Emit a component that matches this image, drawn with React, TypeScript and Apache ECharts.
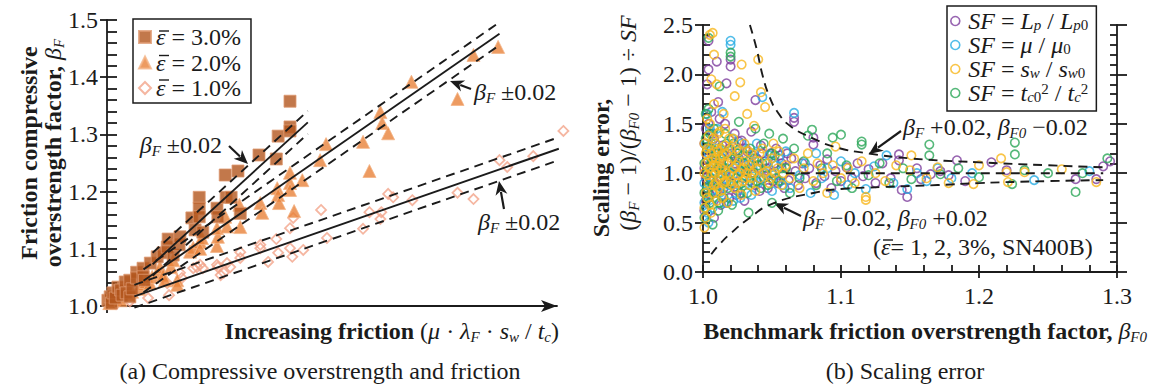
import React, { useEffect, useRef } from 'react';
import * as echarts from 'echarts';

const FONT = "'Liberation Serif', 'Times New Roman', serif";
const INK = '#1b1b1b';
const FS = 24;

// ---------- (a) compressive overstrength vs. increasing friction ----------
// x: relative position along the friction arrow, y: beta_F
const strain3: number[][] = [
  [0.2, 1.01], [0.7, 1.016], [1.0, 1.005], [1.3, 1.023], [1.8, 1.014], [2.4, 1.033], [3.0, 1.028],
  [3.3, 1.019], [4.0, 1.042], [4.2, 1.023], [5.0, 1.045], [5.0, 1.016], [5.5, 1.03], [6.5, 1.059],
  [6.5, 1.049], [7.9, 1.066], [7.9, 1.051], [8.2, 1.045], [9.5, 1.075], [11, 1.086], [12.3, 1.093],
  [13.2, 1.103], [13.4, 1.117], [14.5, 1.089], [15.8, 1.107], [16, 1.121], [18.6, 1.154], [19.3, 1.133],
  [20.2, 1.19], [20.2, 1.171], [20.2, 1.156], [21, 1.129], [24.1, 1.171], [24.3, 1.156], [26.1, 1.19],
  [27.2, 1.19], [25.9, 1.229], [28.7, 1.236], [29.2, 1.162], [33.3, 1.264], [37.1, 1.257], [37.5, 1.297],
  [40.1, 1.313], [40.1, 1.306], [40.1, 1.358],
];
const strain2: number[][] = [
  [0.5, 1.005], [1.5, 1.012], [2.5, 1.018], [3, 1.01], [4.8, 1.02], [5.5, 1.025], [7, 1.03], [7.5, 1.038],
  [8.5, 1.042], [9.4, 1.04], [9.9, 1.051], [11.2, 1.058], [11.6, 1.068], [12.3, 1.054], [12.7, 1.045],
  [14, 1.068], [14.5, 1.08], [15.4, 1.045], [15.4, 1.037], [18.2, 1.095], [18.9, 1.102], [20.4, 1.112],
  [20.4, 1.1], [20.8, 1.119], [24.1, 1.105], [24.3, 1.121], [24.1, 1.136], [25.9, 1.156], [26.3, 1.139],
  [29.2, 1.138], [29, 1.177], [33.6, 1.18], [34, 1.163], [37.3, 1.206], [37.5, 1.194], [37.7, 1.18],
  [40.1, 1.233], [40.1, 1.215], [40.1, 1.203], [41, 1.166], [42.8, 1.22], [46.7, 1.255], [48, 1.283],
  [56.1, 1.287], [57.5, 1.236], [59.9, 1.339], [60.3, 1.32], [61.6, 1.302], [66.7, 1.392], [76.8, 1.362],
  [80.3, 1.439], [85.7, 1.453],
];
const strain1: number[][] = [
  [2, 1.003], [5, 1.008], [9, 1.014], [13.6, 1.019], [13.2, 1.04], [16, 1.058], [16.4, 1.049], [18.9, 1.066],
  [19.7, 1.068], [20.4, 1.072], [21, 1.066], [24.1, 1.072], [24.3, 1.068], [25.6, 1.058], [24.9, 1.054],
  [26.3, 1.075], [27, 1.068], [29.2, 1.094], [29.2, 1.084], [33.6, 1.107], [33.6, 1.101], [35.3, 1.077],
  [37.1, 1.117], [37.5, 1.093], [40.1, 1.101], [40.6, 1.086], [40.1, 1.136], [40.8, 1.154], [43, 1.098],
  [46.9, 1.168], [48.2, 1.119], [56.1, 1.135], [57.5, 1.164], [59.9, 1.152], [60.1, 1.164], [61.6, 1.196],
  [62.7, 1.19], [66.9, 1.185], [76.8, 1.198], [80.3, 1.187], [86, 1.255], [87.7, 1.243], [93.4, 1.262],
  [100, 1.306],
];

// trend lines and their +/-0.02 bands (end points)
const fit3 = [[10, 1.073], [44, 1.321]];
const fit3Hi = [[10, 1.093], [44, 1.341]];
const fit3Lo = [[10, 1.053], [44, 1.301]];
const fit2 = [[8, 1.044], [86, 1.476]];
const fit2Hi = [[8, 1.064], [86, 1.496]];
const fit2Lo = [[8, 1.024], [86, 1.456]];
const fit1 = [[6, 1.017], [99, 1.275]];
const fit1Hi = [[6, 1.037], [99, 1.295]];
const fit1Lo = [[6, 0.997], [99, 1.255]];

// ---------- (b) scaling error vs. benchmark beta_F0 ----------
const sfLength: number[][] = [
  [1.001, 0.62], [1.001, 1.05], [1.001, 1.3], [1.002, 0.95], [1.002, 1.45], [1.002, 0.72], [1.003, 1.9],
  [1.003, 1.15], [1.003, 0.85], [1.004, 2.34], [1.004, 2.05], [1.004, 1.5], [1.005, 1.25], [1.005, 0.78],
  [1.006, 1.62], [1.006, 0.92], [1.007, 1.1], [1.007, 1.4], [1.008, 0.55], [1.008, 1.35], [1.008, 1.0],
  [1.009, 0.9], [1.009, 1.2], [1.01, 2.13], [1.01, 0.82], [1.011, 1.72], [1.011, 1.05], [1.012, 1.05],
  [1.012, 1.55], [1.013, 0.68], [1.013, 0.95], [1.014, 1.28], [1.014, 1.15], [1.015, 0.85], [1.016, 1.5],
  [1.016, 1.02], [1.017, 1.91], [1.017, 0.7], [1.018, 1.12], [1.019, 0.75], [1.019, 1.25], [1.02, 2.15],
  [1.02, 2.08], [1.021, 1.2], [1.021, 0.9], [1.022, 0.98], [1.023, 1.4], [1.023, 1.1], [1.024, 0.78],
  [1.025, 0.82], [1.026, 1.15], [1.026, 1.32], [1.027, 1.02], [1.028, 1.33], [1.029, 0.95], [1.03, 0.72],
  [1.031, 1.08], [1.031, 1.25], [1.032, 1.22], [1.033, 1.05], [1.034, 0.92], [1.035, 1.42], [1.036, 1.18],
  [1.037, 1.0], [1.038, 1.74], [1.038, 0.88], [1.039, 1.15], [1.04, 1.05], [1.041, 0.82], [1.042, 1.28],
  [1.043, 1.2], [1.044, 0.95], [1.045, 1.12], [1.046, 1.05], [1.047, 0.85], [1.049, 1.2], [1.05, 1.0],
  [1.051, 0.92], [1.052, 1.1], [1.053, 1.25], [1.054, 0.9], [1.056, 1.18], [1.057, 1.1], [1.058, 0.98],
  [1.059, 0.85], [1.06, 1.06], [1.061, 1.2], [1.062, 0.93], [1.064, 1.15], [1.066, 1.56], [1.066, 1.52],
  [1.067, 1.02], [1.069, 0.88], [1.072, 1.1], [1.074, 0.95], [1.077, 1.05], [1.08, 1.36], [1.08, 1.29],
  [1.082, 0.9], [1.085, 1.08], [1.088, 0.97], [1.09, 1.14], [1.093, 0.85], [1.096, 1.02], [1.1, 0.92],
  [1.104, 1.06], [1.108, 0.95], [1.112, 1.1], [1.116, 0.97], [1.12, 1.04], [1.125, 0.9], [1.13, 1.1],
  [1.136, 0.95], [1.142, 1.19], [1.142, 1.13], [1.144, 0.83], [1.148, 0.76], [1.155, 1.05], [1.158, 0.94],
  [1.165, 0.99], [1.172, 1.02], [1.178, 0.98], [1.184, 1.13], [1.19, 0.92], [1.209, 1.11], [1.22, 1.03],
  [1.27, 0.94], [1.285, 0.94], [1.29, 1.07], [1.295, 1.12],
];
const sfMu: number[][] = [
  [1.001, 0.7], [1.001, 0.9], [1.002, 1.1], [1.002, 1.3], [1.003, 1.6], [1.003, 0.6], [1.004, 0.5],
  [1.004, 1.2], [1.005, 0.88], [1.005, 1.45], [1.006, 1.3], [1.006, 0.95], [1.007, 0.65], [1.008, 1.15],
  [1.008, 0.75], [1.009, 1.02], [1.01, 1.45], [1.011, 1.25], [1.012, 0.8], [1.013, 1.1], [1.014, 1.62],
  [1.015, 0.7], [1.016, 0.95], [1.017, 1.05], [1.018, 1.2], [1.019, 0.88], [1.02, 2.34], [1.02, 2.3],
  [1.021, 1.35], [1.022, 0.72], [1.023, 1.0], [1.024, 1.05], [1.025, 1.2], [1.026, 0.88], [1.027, 0.75],
  [1.028, 1.3], [1.029, 1.1], [1.03, 0.98], [1.032, 0.9], [1.033, 1.12], [1.035, 0.78], [1.036, 1.05],
  [1.037, 1.2], [1.039, 1.3], [1.04, 0.9], [1.042, 0.95], [1.043, 1.77], [1.045, 1.0], [1.046, 1.1],
  [1.048, 1.18], [1.05, 0.82], [1.051, 0.98], [1.053, 1.08], [1.055, 1.15], [1.056, 0.92], [1.058, 0.88],
  [1.06, 1.22], [1.063, 0.85], [1.066, 1.61], [1.07, 0.98], [1.074, 1.1], [1.078, 0.8], [1.082, 1.2],
  [1.086, 0.95], [1.09, 1.05], [1.095, 0.78], [1.1, 1.12], [1.105, 0.88], [1.11, 1.0], [1.118, 0.84],
  [1.124, 1.07], [1.133, 1.18], [1.138, 0.9], [1.148, 0.84], [1.155, 1.0], [1.162, 0.92], [1.17, 1.05],
  [1.18, 0.95], [1.195, 1.0], [1.24, 0.93], [1.28, 1.02],
];
const sfSpacing: number[][] = [
  [1.001, 0.45], [1.001, 0.65], [1.001, 1.0], [1.001, 1.3], [1.002, 0.8], [1.002, 1.2], [1.002, 0.55],
  [1.002, 1.1], [1.003, 1.55], [1.003, 0.98], [1.003, 0.75], [1.003, 1.25], [1.004, 1.38], [1.004, 0.9],
  [1.004, 1.12], [1.005, 2.4], [1.005, 1.05], [1.005, 0.68], [1.005, 1.5], [1.006, 0.6], [1.006, 1.95],
  [1.006, 1.0], [1.006, 1.2], [1.007, 2.42], [1.007, 1.15], [1.007, 0.8], [1.007, 1.35], [1.008, 0.88],
  [1.008, 2.2], [1.008, 1.08], [1.008, 1.7], [1.009, 1.3], [1.009, 1.0], [1.009, 0.9], [1.009, 1.15],
  [1.01, 0.72], [1.01, 1.9], [1.01, 1.05], [1.01, 1.25], [1.011, 1.1], [1.011, 1.22], [1.011, 0.85],
  [1.011, 1.4], [1.012, 0.95], [1.012, 1.42], [1.012, 1.15], [1.013, 1.05], [1.013, 0.82], [1.013, 1.25],
  [1.014, 1.18], [1.014, 0.98], [1.014, 0.75], [1.015, 1.6], [1.015, 0.9], [1.015, 1.1], [1.016, 1.28],
  [1.016, 0.92], [1.016, 1.45], [1.017, 1.0], [1.017, 1.2], [1.018, 1.1], [1.018, 0.7], [1.019, 1.35],
  [1.019, 0.98], [1.02, 0.92], [1.02, 1.25], [1.021, 1.15], [1.021, 0.88], [1.022, 1.05], [1.022, 1.35],
  [1.023, 1.78], [1.023, 0.85], [1.024, 1.25], [1.024, 1.08], [1.025, 0.98], [1.025, 0.9], [1.026, 1.12],
  [1.026, 1.22], [1.027, 1.92], [1.027, 1.0], [1.028, 2.1], [1.028, 0.78], [1.029, 1.05], [1.029, 0.92],
  [1.03, 1.3], [1.03, 1.12], [1.031, 0.95], [1.032, 1.6], [1.032, 1.0], [1.033, 1.08], [1.033, 1.22],
  [1.034, 0.88], [1.035, 1.2], [1.035, 0.95], [1.036, 1.0], [1.036, 1.1], [1.037, 1.48], [1.038, 0.82],
  [1.039, 1.05], [1.04, 2.15], [1.04, 1.12], [1.041, 0.95], [1.041, 1.2], [1.042, 1.82], [1.043, 1.25],
  [1.044, 1.0], [1.045, 1.67], [1.046, 1.02], [1.047, 1.1], [1.048, 0.9], [1.049, 0.95], [1.05, 1.15],
  [1.051, 1.3], [1.052, 1.0], [1.054, 1.05], [1.055, 1.22], [1.057, 0.88], [1.058, 1.0], [1.06, 1.08],
  [1.063, 0.95], [1.066, 1.15], [1.07, 0.85], [1.073, 1.05], [1.076, 1.2], [1.08, 0.92], [1.083, 1.1],
  [1.087, 1.0], [1.09, 0.8], [1.094, 1.08], [1.096, 1.27], [1.1, 0.95], [1.105, 1.05], [1.11, 0.9],
  [1.115, 1.12], [1.118, 0.73], [1.118, 0.76], [1.125, 1.0], [1.132, 0.92], [1.14, 1.08], [1.151, 1.18],
  [1.15, 1.03], [1.162, 0.95], [1.17, 1.06], [1.178, 0.9], [1.196, 0.89], [1.2, 1.08], [1.216, 1.15],
  [1.221, 0.91], [1.22, 1.01], [1.233, 1.01], [1.26, 1.04], [1.285, 0.91],
];
const sfThickness: number[][] = [
  [1.001, 0.55], [1.001, 0.8], [1.001, 1.1], [1.002, 1.35], [1.002, 0.65], [1.002, 1.6], [1.003, 0.85],
  [1.003, 1.0], [1.003, 1.25], [1.004, 2.37], [1.004, 1.65], [1.004, 0.75], [1.005, 0.7], [1.005, 1.4],
  [1.005, 0.95], [1.006, 1.1], [1.006, 1.25], [1.007, 0.48], [1.007, 0.88], [1.008, 1.45], [1.008, 1.12],
  [1.009, 0.8], [1.009, 1.3], [1.01, 1.2], [1.01, 0.92], [1.011, 0.62], [1.011, 1.05], [1.012, 1.88],
  [1.012, 0.7], [1.013, 1.0], [1.014, 1.2], [1.015, 0.75], [1.015, 1.05], [1.016, 1.4], [1.017, 0.9],
  [1.017, 1.3], [1.018, 0.85], [1.019, 1.12], [1.02, 2.22], [1.02, 2.18], [1.02, 1.0], [1.021, 0.68],
  [1.022, 1.3], [1.023, 1.15], [1.024, 0.95], [1.025, 1.2], [1.026, 1.52], [1.027, 0.8], [1.028, 0.9],
  [1.029, 1.18], [1.03, 1.1], [1.031, 1.02], [1.032, 0.8], [1.033, 0.6], [1.034, 1.25], [1.035, 1.0],
  [1.036, 0.9], [1.037, 1.15], [1.038, 1.45], [1.039, 0.92], [1.04, 1.08], [1.042, 0.85], [1.043, 1.1],
  [1.044, 1.3], [1.046, 0.98], [1.047, 0.88], [1.048, 1.4], [1.05, 0.7], [1.05, 1.2], [1.052, 1.18],
  [1.053, 0.95], [1.055, 0.92], [1.057, 1.05], [1.058, 1.35], [1.06, 1.05], [1.063, 0.8], [1.066, 1.25],
  [1.07, 0.95], [1.073, 1.12], [1.076, 1.38], [1.079, 1.44], [1.082, 0.88], [1.086, 1.05], [1.09, 1.2],
  [1.094, 1.36], [1.097, 0.92], [1.1, 1.39], [1.104, 1.08], [1.108, 0.85], [1.115, 1.32], [1.115, 1.29],
  [1.12, 0.98], [1.128, 1.1], [1.135, 0.9], [1.145, 1.05], [1.151, 0.94], [1.164, 1.29], [1.164, 1.18],
  [1.172, 0.99], [1.185, 1.05], [1.2, 0.96], [1.224, 0.89], [1.226, 1.31], [1.226, 1.19], [1.233, 1.03],
  [1.25, 1.0], [1.27, 0.81], [1.275, 1.0], [1.293, 1.15],
];

// error bounds for beta_F +/- 0.02 and beta_F0 -/+ 0.02
const boundUpper = [
  [1.034, 2.5], [1.039, 2.25], [1.043, 2.0], [1.048, 1.78], [1.054, 1.62], [1.063, 1.48], [1.08, 1.35],
  [1.097, 1.26], [1.12, 1.2], [1.15, 1.15], [1.2, 1.11], [1.25, 1.08], [1.29, 1.06],
];
const boundLower = [
  [1.006, 0.18], [1.012, 0.28], [1.02, 0.39], [1.034, 0.55], [1.05, 0.69], [1.08, 0.8], [1.1, 0.84],
  [1.13, 0.86], [1.17, 0.88], [1.2, 0.9], [1.25, 0.92], [1.29, 0.93],
];
const unity = [[1.06, 1.0], [1.29, 1.0]];

// axis ranges
const leftY = { min: 1.0, max: 1.5, step: 0.1 };
const leftX = { min: 0, max: 98.6 };
const rightX = { min: 1.0, max: 1.3, step: 0.1 };
const rightY = { min: 0.0, max: 2.5, step: 0.5 };

const COLORS = {
  strain3: '#B3561E', strain3Edge: '#DE9A72',
  strain2: '#E8823A', strain2Edge: '#F4B487',
  strain1: '#F2A48A',
  purple: '#7E3F9E', cyan: '#27ACE3', gold: '#F8B61C', green: '#2AA658',
};

const richSet = (size: number, lh = size + 2) => {
  const sub = Math.round(size * 0.62);
  return {
    i: { fontFamily: FONT, fontStyle: 'italic', fontSize: size, lineHeight: lh },
    b: { fontFamily: FONT, fontWeight: 'bold', fontSize: size, lineHeight: lh },
    s: { fontFamily: FONT, fontStyle: 'italic', fontSize: sub, lineHeight: sub, verticalAlign: 'bottom' },
    s0: { fontFamily: FONT, fontSize: sub, lineHeight: sub, verticalAlign: 'bottom' },
    sup: { fontFamily: FONT, fontSize: sub, lineHeight: sub, verticalAlign: 'top' },
  };
};

const legendA: Record<string, string> = {
  strain3: '{i|ε} = 3.0%',
  strain2: '{i|ε} = 2.0%',
  strain1: '{i|ε} = 1.0%',
};
const legendB: Record<string, string> = {
  sfLength: '{i|SF} = {i|L}{s|p} / {i|L}{s|p}{s0|0}',
  sfMu: '{i|SF} = {i|μ} / {i|μ}{s0|0}',
  sfSpacing: '{i|SF} = {i|s}{s|w} / {i|s}{s|w}{s0|0}',
  sfThickness: '{i|SF} = {i|t}{s|c}{s0|0}{sup|2} / {i|t}{s|c}{sup|2}',
};

function arrow(x1: number, y1: number, x2: number, y2: number) {
  const a = Math.atan2(y2 - y1, x2 - x1);
  const L = 14, W = 6;
  const c = Math.cos(a), s = Math.sin(a);
  const bx = x2 - L * c, by = y2 - L * s;
  return [
    { type: 'line', shape: { x1, y1, x2: bx + 3 * c, y2: by + 3 * s }, style: { stroke: INK, lineWidth: 2.2 } },
    {
      type: 'polygon',
      shape: { points: [[x2, y2], [bx - W * s, by + W * c], [bx + 4 * c, by + 4 * s], [bx + W * s, by - W * c]] },
      style: { fill: INK },
    },
  ];
}

// short overbar above an epsilon
function bar(x: number, y: number, w = 10) {
  return {
    type: 'line', z: 100, zlevel: 0,
    shape: { x1: x, y1: y, x2: x + w, y2: y }, style: { stroke: INK, lineWidth: 1.4 },
  };
}

function txt(x: number, y: number, text: string, align: string, extra: any = {}) {
  return {
    type: 'text', x, y, ...extra,
    style: { text, fontFamily: FONT, fontSize: FS, fill: INK, align, verticalAlign: 'middle', rich: richSet(FS) },
  };
}

const axisLineStyle = { color: INK, width: 1.8 };
const tickStyle = { color: INK, width: 1.8 };
const labelStyle = { fontFamily: FONT, fontSize: FS, color: INK };

export default function App() {
  const ref = useRef<HTMLDivElement>(null);

  useEffect(() => {
    if (!ref.current) return;
    const chart = echarts.init(ref.current, undefined, { renderer: 'svg' });

    const dashed = (data: number[][], xi: number, yi: number, smooth = false) => ({
      type: 'line', data, xAxisIndex: xi, yAxisIndex: yi, showSymbol: false, symbol: 'none', smooth,
      clip: false, silent: true, z: 5,
      lineStyle: { color: INK, width: 1.9, type: [9, 6] },
    });
    const solid = (data: number[][]) => ({
      type: 'line', data, xAxisIndex: 0, yAxisIndex: 0, showSymbol: false, symbol: 'none',
      clip: false, silent: true, z: 5, lineStyle: { color: INK, width: 1.9 },
    });
    const ring = (name: string, data: number[][], color: string) => ({
      type: 'scatter', name, data, xAxisIndex: 1, yAxisIndex: 2, symbol: 'circle', symbolSize: 8.5, clip: false,
      itemStyle: { color: 'rgba(255,255,255,0)', borderColor: color, borderWidth: 1.6 },
    });

    const graphics: any[] = [
      // (a) axis titles and caption
      txt(29, 153, '{b|Friction compressive}', 'center', { rotation: Math.PI / 2 }),
      txt(53, 153, '{b|overstrength factor,} {i|β}{s|F}', 'center', { rotation: Math.PI / 2 }),
      txt(559, 331, '{b|Increasing friction} ({i|μ} · {i|λ}{s|F} · {i|s}{s|w} / {i|t}{s|c})', 'right'),
      txt(320, 371, '(a) Compressive overstrength and friction', 'center'),
      // (a) band labels
      txt(222, 145, '{i|β}{s|F} ±0.02', 'right'),
      txt(474, 92, '{i|β}{s|F} ±0.02', 'left'),
      txt(478, 222, '{i|β}{s|F} ±0.02', 'left'),
      ...arrow(229, 146, 248, 164),
      ...arrow(471, 89, 450, 81),
      ...arrow(504, 209, 499, 181),
      // (b) axis titles and caption
      txt(601, 168, '{b|Scaling error,}', 'center', { rotation: Math.PI / 2 }),
      txt(628, 123, '({i|β}{s|F} − 1)/({i|β}{s|F0} − 1) ÷ {i|SF}', 'center', { rotation: Math.PI / 2 }),
      txt(1147, 331, '{b|Benchmark friction overstrength factor,} {i|β}{s|F0}', 'right'),
      txt(905, 371, '(b) Scaling error', 'center'),
      // (b) bound labels
      txt(903, 127, '{i|β}{s|F} +0.02, {i|β}{s|F0} −0.02', 'left'),
      txt(803, 218, '{i|β}{s|F} −0.02, {i|β}{s|F0} +0.02', 'left'),
      txt(873, 247, '({i|ε}= 1, 2, 3%, SN400B)', 'left'),
      bar(883, 240),
      ...arrow(901, 131, 869, 154),
      ...arrow(801, 216, 774, 203),
      // legend overbars
      bar(159, 31), bar(159, 55.5), bar(159, 80),
    ];

    chart.setOption({
      animation: false,
      backgroundColor: '#ffffff',
      textStyle: { fontFamily: FONT },
      grid: [
        { left: 107, top: 20, width: 450, height: 286 },
        { left: 703, top: 25, width: 414, height: 247 },
      ],
      xAxis: [
        {
          gridIndex: 0, type: 'value', min: leftX.min, max: leftX.max, position: 'bottom',
          axisLine: { show: true, symbol: ['none', 'arrow'], symbolSize: [9, 16], lineStyle: axisLineStyle },
          axisTick: { show: true, customValues: [0], length: 7, lineStyle: tickStyle },
          axisLabel: { show: false }, splitLine: { show: false },
        },
        {
          gridIndex: 1, type: 'value', min: rightX.min, max: rightX.max, interval: rightX.step, position: 'bottom',
          axisLine: { show: true, lineStyle: axisLineStyle },
          axisTick: { show: true, length: 6, lineStyle: tickStyle },
          axisLabel: { ...labelStyle, margin: 12, formatter: (v: number) => v.toFixed(1) },
          splitLine: { show: false },
        },
        {
          gridIndex: 1, type: 'value', min: rightX.min, max: rightX.max, interval: rightX.step, position: 'bottom',
          axisLine: { show: false },
          axisTick: { show: true, inside: true, length: 7, lineStyle: tickStyle },
          minorTick: { show: true, splitNumber: 5, length: 7, lineStyle: tickStyle },
          axisLabel: { show: false }, splitLine: { show: false },
        },
      ],
      yAxis: [
        {
          gridIndex: 0, type: 'value', min: leftY.min, max: leftY.max, interval: leftY.step, position: 'left',
          axisLine: { show: true, lineStyle: axisLineStyle },
          axisTick: { show: true, length: 7, lineStyle: tickStyle },
          axisLabel: { ...labelStyle, margin: 9, formatter: (v: number) => v.toFixed(1) },
          splitLine: { show: false },
        },
        {
          gridIndex: 0, type: 'value', min: leftY.min, max: leftY.max, interval: leftY.step, position: 'left',
          axisLine: { show: false },
          axisTick: { show: true, inside: true, length: 10, lineStyle: tickStyle },
          minorTick: { show: true, splitNumber: 5, length: 10, lineStyle: tickStyle },
          axisLabel: { show: false }, splitLine: { show: false },
        },
        {
          gridIndex: 1, type: 'value', min: rightY.min, max: rightY.max, interval: rightY.step, position: 'left',
          axisLine: { show: true, lineStyle: axisLineStyle },
          axisTick: { show: true, length: 8, lineStyle: tickStyle },
          axisLabel: { ...labelStyle, margin: 10, formatter: (v: number) => v.toFixed(1) },
          splitLine: { show: false },
        },
        {
          gridIndex: 1, type: 'value', min: rightY.min, max: rightY.max, interval: rightY.step, position: 'left',
          axisLine: { show: false },
          axisTick: { show: true, inside: true, length: 7, lineStyle: tickStyle },
          minorTick: { show: true, splitNumber: 5, length: 7, lineStyle: tickStyle },
          axisLabel: { show: false }, splitLine: { show: false },
        },
        {
          gridIndex: 1, type: 'value', min: rightY.min, max: rightY.max, interval: rightY.step, position: 'right',
          axisLine: { show: true, lineStyle: axisLineStyle },
          axisTick: { show: true, length: 10, lineStyle: tickStyle },
          axisLabel: { show: false }, splitLine: { show: false },
        },
        {
          gridIndex: 1, type: 'value', min: rightY.min, max: rightY.max, interval: rightY.step, position: 'right',
          axisLine: { show: false },
          axisTick: { show: true, inside: true, length: 7, lineStyle: tickStyle },
          minorTick: { show: true, splitNumber: 5, length: 7, lineStyle: tickStyle },
          axisLabel: { show: false }, splitLine: { show: false },
        },
      ],
      legend: [
        {
          left: 133, top: 19, orient: 'vertical', selectedMode: false,
          padding: [6, 10, 3, 5], itemGap: 1.5, itemWidth: 12, itemHeight: 12,
          borderColor: INK, borderWidth: 1.5, backgroundColor: '#fff',
          data: [
            { name: 'strain3', icon: 'rect' },
            { name: 'strain2', icon: 'triangle' },
            { name: 'strain1', icon: 'diamond', itemStyle: { color: '#fff', borderColor: COLORS.strain1, borderWidth: 2 } },
          ],
          formatter: (n: string) => legendA[n] ?? n,
          textStyle: { ...labelStyle, lineHeight: 23, rich: richSet(FS, 23) },
        },
        {
          left: 947, top: 6, orient: 'vertical', selectedMode: false,
          padding: [3, 8, 6, 3], itemGap: 0, itemWidth: 16, itemHeight: 9,
          borderColor: INK, borderWidth: 1.5, backgroundColor: '#fff',
          data: [
            { name: 'sfLength', icon: 'circle', itemStyle: { color: '#fff', borderColor: COLORS.purple, borderWidth: 1.6 } },
            { name: 'sfMu', icon: 'circle', itemStyle: { color: '#fff', borderColor: COLORS.cyan, borderWidth: 1.6 } },
            { name: 'sfSpacing', icon: 'circle', itemStyle: { color: '#fff', borderColor: COLORS.gold, borderWidth: 1.6 } },
            { name: 'sfThickness', icon: 'circle', itemStyle: { color: '#fff', borderColor: COLORS.green, borderWidth: 1.6 } },
          ],
          formatter: (n: string) => legendB[n] ?? n,
          textStyle: { ...labelStyle, lineHeight: 23, rich: richSet(FS, 23) },
        },
      ],
      series: [
        {
          type: 'scatter', name: 'strain1', data: strain1, xAxisIndex: 0, yAxisIndex: 0, symbol: 'diamond',
          symbolSize: 10, clip: false,
          itemStyle: { color: 'rgba(255,255,255,0)', borderColor: COLORS.strain1, borderWidth: 1.8 },
        },
        {
          type: 'scatter', name: 'strain2', data: strain2, xAxisIndex: 0, yAxisIndex: 0, symbol: 'triangle',
          symbolSize: 13, clip: false,
          itemStyle: { color: COLORS.strain2, borderColor: COLORS.strain2Edge, borderWidth: 1 },
        },
        {
          type: 'scatter', name: 'strain3', data: strain3, xAxisIndex: 0, yAxisIndex: 0, symbol: 'rect',
          symbolSize: 12, clip: false,
          itemStyle: { color: COLORS.strain3, borderColor: COLORS.strain3Edge, borderWidth: 1 },
        },
        solid(fit3), dashed(fit3Hi, 0, 0), dashed(fit3Lo, 0, 0),
        solid(fit2), dashed(fit2Hi, 0, 0), dashed(fit2Lo, 0, 0),
        solid(fit1), dashed(fit1Hi, 0, 0), dashed(fit1Lo, 0, 0),
        ring('sfLength', sfLength, COLORS.purple),
        ring('sfMu', sfMu, COLORS.cyan),
        ring('sfThickness', sfThickness, COLORS.green),
        ring('sfSpacing', sfSpacing, COLORS.gold),
        dashed(boundUpper, 1, 2, true),
        dashed(boundLower, 1, 2, true),
        dashed(unity, 1, 2),
      ],
      graphic: { z: 100, elements: graphics },
    });

    return () => chart.dispose();
  }, []);

  return <div ref={ref} style={{ position: 'absolute', left: 0, top: 0, width: 1151, height: 387 }} />;
}
